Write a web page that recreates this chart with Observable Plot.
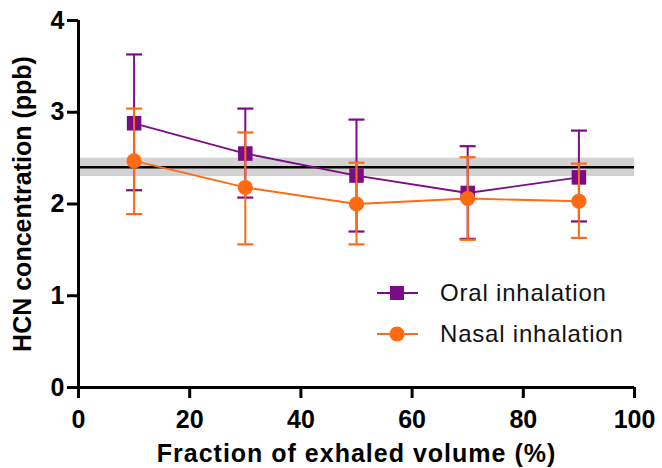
<!DOCTYPE html>
<html>
<head>
<meta charset="utf-8">
<script src="https://cdn.jsdelivr.net/npm/d3@7"></script>
<script src="https://cdn.jsdelivr.net/npm/@observablehq/plot@0.6"></script>
<style>
  html, body { margin: 0; padding: 0; background: #fff; }
  #wrap { position: relative; width: 662px; height: 468px; }
  #legend { position: absolute; left: 0; top: 0; pointer-events: none; }
</style>
</head>
<body>
<div id="wrap"></div>
<script>
// ---- data ----
const fractions = [10, 30, 50, 70, 90];
const oralMean  = [2.88, 2.55, 2.31, 2.12, 2.29];
const oralUpper = [3.63, 3.04, 2.92, 2.63, 2.80];
const oralLower = [2.15, 2.07, 1.70, 1.62, 1.81];
const nasalMean  = [2.47, 2.18, 2.00, 2.06, 2.03];
const nasalUpper = [3.04, 2.78, 2.45, 2.51, 2.44];
const nasalLower = [1.89, 1.56, 1.56, 1.61, 1.63];
const referenceLevel = [2.40];
const referenceBand = [{x1: 0, x2: 100, y1: 2.30, y2: 2.50}];
const seriesNames = ["Oral inhalation", "Nasal inhalation"];
const seriesColors = ["#7b0c87", "#ff6a13"];
const xTicks = [0, 20, 40, 60, 80, 100];
const yTicks = [0, 1, 2, 3, 4];
const xTitle = "Fraction of exhaled volume (%)";
const yTitle = "HCN concentration (ppb)";

const oral = fractions.map((f, i) => ({x: f, y: oralMean[i], lo: oralLower[i], hi: oralUpper[i]}));
const nasal = fractions.map((f, i) => ({x: f, y: nasalMean[i], lo: nasalLower[i], hi: nasalUpper[i]}));

const capSymbol = {
  draw(ctx, size) {
    const r = Math.sqrt(size / Math.PI);
    ctx.moveTo(-r, 0);
    ctx.lineTo(r, 0);
  }
};

function seriesMarks(data, color, symbol, r) {
  return [
    Plot.line(data, {x: "x", y: "y", stroke: color, strokeWidth: 1.8}),
    Plot.ruleX(data, {x: "x", y1: "lo", y2: "hi", stroke: color, strokeWidth: 2}),
    Plot.dot(data, {x: "x", y: "hi", symbol: capSymbol, r: 8, stroke: color, strokeWidth: 2.2, fill: "none"}),
    Plot.dot(data, {x: "x", y: "lo", symbol: capSymbol, r: 8, stroke: color, strokeWidth: 2.2, fill: "none"}),
    Plot.dot(data, {x: "x", y: "y", symbol, r, fill: color, stroke: "none"})
  ];
}

const FONT = "'Liberation Sans', Arial, Helvetica, sans-serif";

const chart = Plot.plot({
  width: 662,
  height: 468,
  marginLeft: 78,
  marginRight: 28,
  marginTop: 20,
  marginBottom: 81,
  style: {fontFamily: FONT, background: "#fff", color: "#000", overflow: "visible"},
  x: {domain: [0, 100]},
  y: {domain: [0, 4]},
  marks: [
    Plot.rect(referenceBand, {x1: "x1", x2: "x2", y1: "y1", y2: "y2", fill: "#d2d2d2"}),
    Plot.ruleY(referenceLevel, {x1: 0, x2: 100, stroke: "#000", strokeWidth: 2.5}),
    ...seriesMarks(oral, seriesColors[0], "square", 8.2),
    ...seriesMarks(nasal, seriesColors[1], "circle", 7.6),
    Plot.axisX({ticks: xTicks, tickSize: 11, tickPadding: 12, strokeWidth: 3, fontSize: 25, fontWeight: "bold", label: null, tickFormat: d => String(d)}),
    Plot.axisY({ticks: yTicks, tickSize: 11, tickPadding: 3, strokeWidth: 3, fontSize: 25, fontWeight: "bold", label: null, tickFormat: d => String(d)}),
    Plot.ruleX([0], {stroke: "#000", strokeWidth: 3}),
    Plot.ruleY([0], {x1: 0, x2: 100, stroke: "#000", strokeWidth: 3}),
    Plot.text([xTitle], {text: d => d, frameAnchor: "bottom", dy: 66, lineAnchor: "middle", textAnchor: "middle", fontSize: 25, fontWeight: "bold", fill: "#000"}),
    Plot.text([yTitle], {text: d => d, frameAnchor: "left", dx: -55.5, rotate: -90, lineAnchor: "middle", textAnchor: "middle", fontSize: 25, fontWeight: "bold", fill: "#000"})
  ]
});

d3.select(chart).selectAll("text").each(function() {
  if (this.textContent === xTitle) this.setAttribute("letter-spacing", "1px");
});

const wrap = document.getElementById("wrap");
wrap.appendChild(chart);

// legend overlay
const leg = d3.select(wrap).append("svg")
  .attr("id", "legend").attr("width", 662).attr("height", 468)
  .style("font-family", FONT);
const legendY = [293, 334];
seriesNames.forEach((name, i) => {
  const g = leg.append("g").attr("transform", `translate(0,${legendY[i]})`);
  g.append("line").attr("x1", 377).attr("x2", 418).attr("y1", 0).attr("y2", 0)
    .attr("stroke", seriesColors[i]).attr("stroke-width", 2.2);
  if (i === 0) {
    g.append("rect").attr("x", 390).attr("y", -7).attr("width", 14).attr("height", 14).attr("fill", seriesColors[i]);
  } else {
    g.append("circle").attr("cx", 397).attr("cy", 0).attr("r", 7.6).attr("fill", seriesColors[i]);
  }
  g.append("text").attr("x", 440).attr("y", 0).attr("dy", "0.35em")
    .attr("font-size", 24).attr("letter-spacing", "0.8px").attr("fill", "#111").text(name);
});
</script>
</body>
</html>
